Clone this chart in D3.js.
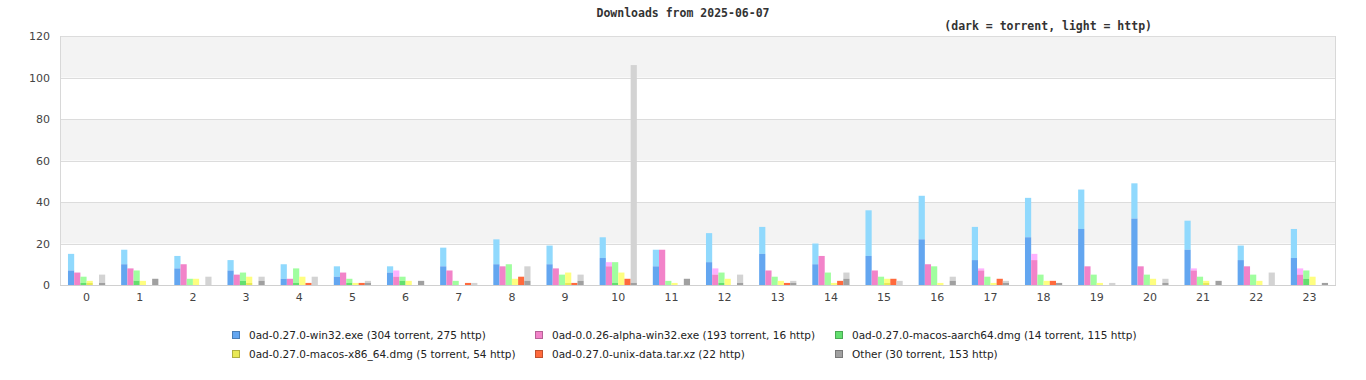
<!DOCTYPE html>
<html>
<head>
<meta charset="utf-8">
<script src="https://cdn.jsdelivr.net/npm/d3@7/dist/d3.min.js"></script>
<style>
html,body{margin:0;padding:0;background:#fff;}
svg{display:block;}
</style>
</head>
<body>
<svg id="chart" width="1366" height="380"></svg>
<script>
// ---- data ----
const hours = ["0","1","2","3","4","5","6","7","8","9","10","11","12","13","14","15","16","17","18","19","20","21","22","23"];
const yTicks = [0,20,40,60,80,100,120];
const seriesNames = ["0ad-0.27.0-win32.exe","0ad-0.0.26-alpha-win32.exe","0ad-0.27.0-macos-aarch64.dmg","0ad-0.27.0-macos-x86_64.dmg","0ad-0.27.0-unix-data.tar.xz","Other"];

const win32Torrent   = [7,10,8,7,3,4,6,9,10,10,13,9,11,15,10,14,22,12,23,27,32,17,12,13];
const win32Http      = [8,7,6,5,7,5,3,9,12,9,10,8,14,13,10,22,21,16,19,19,17,14,7,14];
const alphaTorrent   = [6,8,10,5,3,6,4,7,9,8,9,17,5,7,14,7,10,7,12,9,9,7,9,5];
const alphaHttp      = [0,0,0,0,0,0,3,0,0,0,2,0,3,0,0,0,0,1,3,0,0,1,0,3];
const aarchTorrent   = [1,2,0,2,1,1,2,0,0,0,1,0,1,0,0,0,0,0,0,0,0,0,0,3];
const aarchHttp      = [3,5,3,4,7,2,2,2,10,5,10,2,5,4,6,4,9,4,5,5,5,4,5,4];
const x86Torrent     = [1,0,0,1,0,0,0,0,0,1,0,0,0,0,0,1,0,0,0,0,0,1,0,0];
const x86Http        = [1,2,3,3,4,1,2,0,3,5,6,1,3,2,1,2,1,1,2,1,3,1,2,4];
const unixTorrent    = [0,0,0,0,0,0,0,0,0,0,0,0,0,0,0,0,0,0,0,0,0,0,0,0];
const unixHttp       = [0,0,0,0,1,1,0,1,4,1,3,0,0,1,2,3,0,3,2,0,0,0,0,0];
const otherTorrent   = [1,3,0,2,0,1,2,0,2,2,1,3,1,1,3,0,2,1,1,0,1,2,0,1];
const otherHttp      = [4,0,4,2,4,1,0,1,7,3,105,0,4,1,3,2,2,1,0,1,2,0,6,0];

const torrentSeries = [win32Torrent, alphaTorrent, aarchTorrent, x86Torrent, unixTorrent, otherTorrent];
const httpSeries    = [win32Http, alphaHttp, aarchHttp, x86Http, unixHttp, otherHttp];

const darkColors  = ["#63a6f0","#f283c9","#63df6f","#e9e955","#ff6a3d","#a0a0a0"];
const lightColors = ["#90d9fd","#ffb1fe","#a0fe9f","#fefe80","#ff6a3d","#d3d3d3"];

// ---- layout ----
const svg = d3.select("#chart");
const L = 60, R = 1336, T = 36, B = 285;

const x0 = d3.scaleBand().domain(hours).range([L, R]).paddingInner(0.3).paddingOuter(0.15);
const x1 = d3.scaleBand().domain(d3.range(seriesNames.length)).range([0, x0.bandwidth()]);
const y = d3.scaleLinear().domain([0,120]).range([B, T]);

// bands
const bandG = svg.append("g");
for (let i = 0; i < yTicks.length - 1; i++) {
  const lo = yTicks[i], hi = yTicks[i+1];
  bandG.append("rect")
    .attr("x", L).attr("y", y(hi)).attr("width", R - L).attr("height", y(lo) - y(hi))
    .attr("fill", (i % 2 === 1) ? "#f3f3f3" : "#ffffff");
}
// grid lines
svg.append("g").selectAll("line").data(yTicks).join("line")
  .attr("x1", L).attr("x2", R)
  .attr("y1", d => Math.round(y(d)) + 0.5).attr("y2", d => Math.round(y(d)) + 0.5)
  .attr("stroke", "#dcdcdc").attr("stroke-width", 1);

// bars
const barsG = svg.append("g");
hours.forEach((h, hi) => {
  seriesNames.forEach((s, si) => {
    const t = torrentSeries[si][hi], p = httpSeries[si][hi];
    const bx = x0(h) + x1(si), bw = x1.bandwidth();
    if (p > 0) {
      barsG.append("rect").attr("x", bx).attr("width", bw)
        .attr("y", y(t + p)).attr("height", y(t) - y(t + p))
        .attr("fill", lightColors[si]);
    }
    if (t > 0) {
      barsG.append("rect").attr("x", bx).attr("width", bw)
        .attr("y", y(t)).attr("height", y(0) - y(t))
        .attr("fill", darkColors[si]);
    }
  });
});

// frame
svg.append("line").attr("x1", L + 0.5).attr("x2", L + 0.5).attr("y1", T).attr("y2", B + 1).attr("stroke", "#d8d8d8");
svg.append("line").attr("x1", R - 0.5).attr("x2", R - 0.5).attr("y1", T).attr("y2", B + 1).attr("stroke", "#d8d8d8");
svg.append("line").attr("x1", L).attr("x2", R).attr("y1", B + 0.5).attr("y2", B + 0.5).attr("stroke", "#d0d0d0");

// axes
const yAxis = d3.axisLeft(y).tickValues(yTicks).tickSize(0).tickPadding(10);
const yg = svg.append("g").attr("transform", `translate(${L},0)`).call(yAxis);
yg.select(".domain").remove();
yg.selectAll("text").attr("font-family", "DejaVu Sans").attr("font-size", 11).attr("fill", "#444");

const xAxis = d3.axisBottom(x0).tickSize(0).tickPadding(8);
const xg = svg.append("g").attr("transform", `translate(0,${B})`).call(xAxis);
xg.select(".domain").remove();
xg.selectAll("text").attr("font-family", "DejaVu Sans").attr("font-size", 11).attr("fill", "#444");

// title
svg.append("text").attr("x", 683).attr("y", 17).attr("text-anchor", "middle")
  .attr("font-family", "DejaVu Sans Mono").attr("font-weight", "bold").attr("font-size", 11.5)
  .attr("fill", "#333").text("Downloads from 2025-06-07");
svg.append("text").attr("x", 1152).attr("y", 30).attr("text-anchor", "end")
  .attr("font-family", "DejaVu Sans Mono").attr("font-weight", "bold").attr("font-size", 11.5)
  .attr("fill", "#333").text("(dark = torrent, light = http)");

// legend
function legendLabel(si) {
  const ts = d3.sum(torrentSeries[si]), hs = d3.sum(httpSeries[si]);
  const parts = [];
  if (ts > 0) parts.push(ts + " torrent");
  if (hs > 0) parts.push(hs + " http");
  return seriesNames[si] + " (" + parts.join(", ") + ")";
}
const legX = [232, 535, 835];
const legY = [335, 354];
const legG = svg.append("g");
seriesNames.forEach((s, si) => {
  const cx = legX[si % 3], cy = legY[Math.floor(si / 3)];
  legG.append("rect").attr("x", cx + 0.5).attr("y", cy - 3.5).attr("width", 7).attr("height", 7)
    .attr("fill", darkColors[si]).attr("stroke", d3.color(darkColors[si]).darker(0.8)).attr("stroke-width", 1);
  const txt = legG.append("text").attr("x", cx + 17).attr("y", cy + 4)
    .attr("font-family", "DejaVu Sans")
    .attr("font-size", 11).attr("fill", "#222").text(legendLabel(si));
  const w = txt.node().getComputedTextLength();
  txt.attr("textLength", w * 0.955).attr("lengthAdjust", "spacingAndGlyphs");
});
</script>
</body>
</html>
